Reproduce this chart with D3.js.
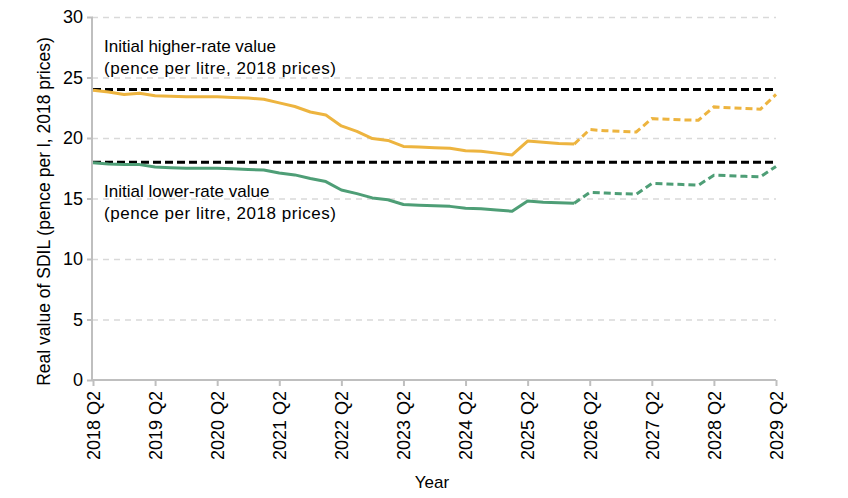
<!DOCTYPE html>
<html>
<head>
<meta charset="utf-8">
<script src="https://cdn.jsdelivr.net/npm/d3@7"></script>
<style>
  body { margin: 0; background: #fff; }
  svg text { font-family: "Liberation Sans", Arial, sans-serif; fill: #000; }
  .grid line { stroke: #d9d9d9; stroke-dasharray: 6,5; stroke-width: 1.3; }
  .grid path { display: none; }
</style>
</head>
<body>
<div id="chart"></div>
<script>
// quarterly series, 2018 Q2 .. 2029 Q2
var tickYears = ['2018', '2019', '2020', '2021', '2022', '2023', '2024', '2025', '2026', '2027', '2028', '2029'];

var higherRate = [
  23.95, 23.8, 23.6, 23.7, 23.5, 23.45, 23.4, 23.4, 23.4, 23.35, 23.3, 23.2,
  22.9, 22.6, 22.15, 21.9, 21.0, 20.55, 19.95, 19.8, 19.3, 19.25, 19.2, 19.15,
  18.95, 18.9, 18.75, 18.6, 19.75, 19.65, 19.55, 19.5,
  20.7, 20.6, 20.55, 20.5, 21.6, 21.55, 21.5, 21.47, 22.57, 22.5, 22.45, 22.38, 23.6
];

var lowerRate = [
  17.95, 17.85, 17.8, 17.8, 17.6, 17.55, 17.5, 17.5, 17.5, 17.45, 17.4, 17.35,
  17.1, 16.95, 16.65, 16.4, 15.7, 15.4, 15.05, 14.9, 14.5, 14.45, 14.4, 14.35,
  14.2, 14.15, 14.05, 13.95, 14.8, 14.7, 14.65, 14.6,
  15.5, 15.45, 15.4, 15.36, 16.24, 16.2, 16.15, 16.1, 16.93, 16.88, 16.83, 16.8, 17.65
];

var initialHigher = 24;
var initialLower = 18;
var projectionStart = 31; // index where the dashed (forecast) part begins
var yTicks = [0, 5, 10, 15, 20, 25, 30];

var w = 848, h = 498;
var margin = { top: 17, right: 72, bottom: 118, left: 93 };
var innerW = w - margin.left - margin.right;
var innerH = h - margin.top - margin.bottom;

var svg = d3.select('#chart').append('svg')
  .attr('width', w)
  .attr('height', h);

var g = svg.append('g')
  .attr('transform', 'translate(' + margin.left + ',' + margin.top + ')');

var x = d3.scaleLinear()
  .domain([0, higherRate.length - 1])
  .range([0, innerW]);

var y = d3.scaleLinear()
  .domain([0, 30])
  .range([innerH, 0]);

// gridlines
g.append('g')
  .attr('class', 'grid')
  .call(d3.axisLeft(y).tickValues(yTicks.slice(1)).tickSize(-innerW).tickFormat(''))
  .call(s => s.selectAll('line').attr('x1', -1));

// axes
var yAxis = g.append('g')
  .call(d3.axisLeft(y).tickValues(yTicks).tickSize(6).tickPadding(4));
yAxis.selectAll('path, line').attr('stroke', '#bfbfbf').attr('stroke-width', 2);
yAxis.select('path').attr('d', 'M-1,' + (innerH + 1) + 'V0');
yAxis.selectAll('text').style('font-size', '18px');

var xAxis = g.append('g')
  .attr('transform', 'translate(0,' + innerH + ')')
  .call(d3.axisBottom(x)
    .tickValues(d3.range(0, higherRate.length, 4))
    .tickSize(6)
    .tickFormat((d, i) => tickYears[i] + ' Q2'));
xAxis.selectAll('path, line').attr('stroke', '#bfbfbf').attr('stroke-width', 2);
xAxis.select('path').attr('d', 'M-1,0H' + innerW);
xAxis.selectAll('text')
  .style('font-size', '18px')
  .attr('text-anchor', 'end')
  .attr('transform', 'rotate(-90)')
  .attr('x', -11)
  .attr('y', 0)
  .attr('dy', '0.35em');

// axis titles
svg.append('text')
  .attr('transform', 'translate(50,' + (margin.top + innerH / 2 + 13) + ') rotate(-90)')
  .attr('text-anchor', 'middle')
  .style('font-size', '17.5px')
  .text('Real value of SDIL (pence per l, 2018 prices)');

svg.append('text')
  .attr('x', 432)
  .attr('y', 488)
  .attr('text-anchor', 'middle')
  .style('font-size', '17px')
  .text('Year');

// initial value reference lines
[initialHigher, initialLower].forEach(function(v) {
  g.append('line')
    .attr('x1', 0)
    .attr('x2', innerW)
    .attr('y1', y(v))
    .attr('y2', y(v))
    .attr('stroke', '#000')
    .attr('stroke-width', 3)
    .attr('stroke-dasharray', '8,4');
});

var line = d3.line()
  .x((d, i) => x(d.i))
  .y(d => y(d.v));

function drawSeries(values, colour) {
  var pts = values.map((v, i) => ({ i: i, v: v }));
  g.append('path')
    .datum(pts.slice(0, projectionStart + 1))
    .attr('fill', 'none')
    .attr('stroke', colour)
    .attr('stroke-width', 3)
    .attr('stroke-linejoin', 'round')
    .attr('d', line);
  g.append('path')
    .datum(pts.slice(projectionStart))
    .attr('fill', 'none')
    .attr('stroke', colour)
    .attr('stroke-width', 3)
    .attr('stroke-dasharray', '7,4')
    .attr('d', line);
}

drawSeries(higherRate, '#EDB43F');
drawSeries(lowerRate, '#4E9E76');

// annotations
var notes = [
  { lines: ['Initial higher-rate value', '(pence per litre, 2018 prices)'], y0: 52 },
  { lines: ['Initial lower-rate value', '(pence per litre, 2018 prices)'], y0: 197 }
];
notes.forEach(function(n) {
  n.lines.forEach(function(t, k) {
    var txt = svg.append('text')
      .attr('x', 104)
      .attr('y', n.y0 + k * 22)
      .style('font-size', '17px')
      .text(t);
    if (k == 1) txt.attr('textLength', 232).attr('lengthAdjust', 'spacing');
  });
});
</script>
</body>
</html>
